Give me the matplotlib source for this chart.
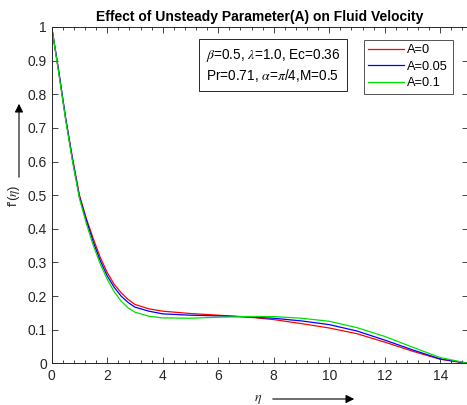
import matplotlib
matplotlib.use("Agg")
import matplotlib.pyplot as plt
from matplotlib.ticker import MultipleLocator
from matplotlib.patches import FancyArrowPatch

plt.rcParams["font.family"] = ["Liberation Sans", "DejaVu Sans"]
plt.rcParams["mathtext.fontset"] = "stix"

eta = [0, 0.25, 0.5, 0.75, 1.0, 1.25, 1.5, 1.75, 2.0, 2.25, 2.5, 2.75, 3.0, 3.5, 4.0,
       5.0, 6.0, 7.0, 8.0, 9.0, 10.0, 11.0, 12.0, 13.0, 14.0, 15.0]
f_a0 = [1.0, 0.87, 0.73, 0.61, 0.50, 0.43, 0.37, 0.315, 0.27, 0.235, 0.21, 0.19, 0.175, 0.162, 0.155,
        0.148, 0.143, 0.138, 0.130, 0.118, 0.105, 0.088, 0.063, 0.036, 0.012, 0.0]
f_a005 = [1.0, 0.87, 0.73, 0.605, 0.495, 0.425, 0.36, 0.305, 0.26, 0.226, 0.20, 0.181, 0.167, 0.155, 0.147,
          0.143, 0.141, 0.138, 0.134, 0.126, 0.115, 0.096, 0.069, 0.040, 0.013, 0.0]
f_a01 = [1.0, 0.865, 0.725, 0.60, 0.49, 0.415, 0.35, 0.295, 0.25, 0.213, 0.185, 0.165, 0.152, 0.140, 0.135,
         0.134, 0.137, 0.139, 0.139, 0.134, 0.125, 0.106, 0.080, 0.048, 0.017, 0.0]
labels = ["A=0", "A=0.05", "A=0.1"]
colors = ["#ff0000", "#0000ff", "#00e000"]
yticklabels = ["0", "0.1", "0.2", "0.3", "0.4", "0.5", "0.6", "0.7", "0.8", "0.9", "1"]

W, H = 467, 405
fig = plt.figure(figsize=(W / 100, H / 100), dpi=100)
ax = fig.add_axes([51.7 / W, 41.7 / H, 416.3 / W, 336.3 / H])

for ys, lab, c in zip([f_a0, f_a005, f_a01], labels, colors):
    ax.plot(eta, ys, color=c, lw=0.9, label=lab)

ax.set_xlim(0, 15)
ax.set_ylim(0, 1)
ax.xaxis.set_major_locator(MultipleLocator(2))
ax.xaxis.set_minor_locator(MultipleLocator(0.4))
ax.set_yticks([i / 10 for i in range(11)])
ax.set_yticklabels(yticklabels)
ax.tick_params(which="both", direction="in", top=True, right=True, colors="#262626",
               labelsize=10, width=0.6)
ax.tick_params(which="major", length=4)
ax.tick_params(which="minor", length=2.5)
ax.tick_params(axis="x", pad=4)
for sp in ax.spines.values():
    sp.set_color("#262626")
    sp.set_linewidth(0.7)

ax.set_title("Effect of Unsteady Parameter(A) on Fluid Velocity", fontsize=10,
             fontweight="bold", pad=4)

handles, labs = ax.get_legend_handles_labels()
leg = fig.legend(handles, labs, loc="upper left", bbox_to_anchor=(364 / W, 1 - 40 / H), fontsize=9.2,
                 frameon=True, fancybox=False, edgecolor="#262626", handlelength=2.8,
                 handletextpad=0.25, labelspacing=0.35, borderpad=0.35, borderaxespad=0)
leg.get_frame().set_linewidth(0.7)

fig.text(206 / W, 1 - 65.5 / H,
         "$\\beta$=0.5, $\\lambda$=1.0, Ec=0.36\nPr=0.71, $\\alpha$=$\\pi$/4,M=0.5",
         fontsize=9.8, va="center", ha="left", linespacing=1.25,
         bbox=dict(boxstyle="square,pad=0.5", fc="white", ec="#262626", lw=0.7))

fig.text(14 / W, 1 - 196 / H, "f'($\\eta$)", rotation=90, ha="center", va="center",
         fontsize=9.5, color="#262626")
fig.add_artist(FancyArrowPatch((19 / W, 1 - 180 / H), (19 / W, 1 - 101 / H),
                               transform=fig.transFigure, arrowstyle="-|>,head_length=5,head_width=2.5",
                               color="black", lw=0.8))
fig.text(258 / W, 1 - 399 / H, "$\\eta$", ha="center", va="center", fontsize=10, color="#262626")
fig.add_artist(FancyArrowPatch((270 / W, 1 - 399 / H), (357 / W, 1 - 399 / H),
                               transform=fig.transFigure, arrowstyle="-|>,head_length=5,head_width=2.5",
                               color="black", lw=0.8))

fig.savefig("out.png", dpi=100)
